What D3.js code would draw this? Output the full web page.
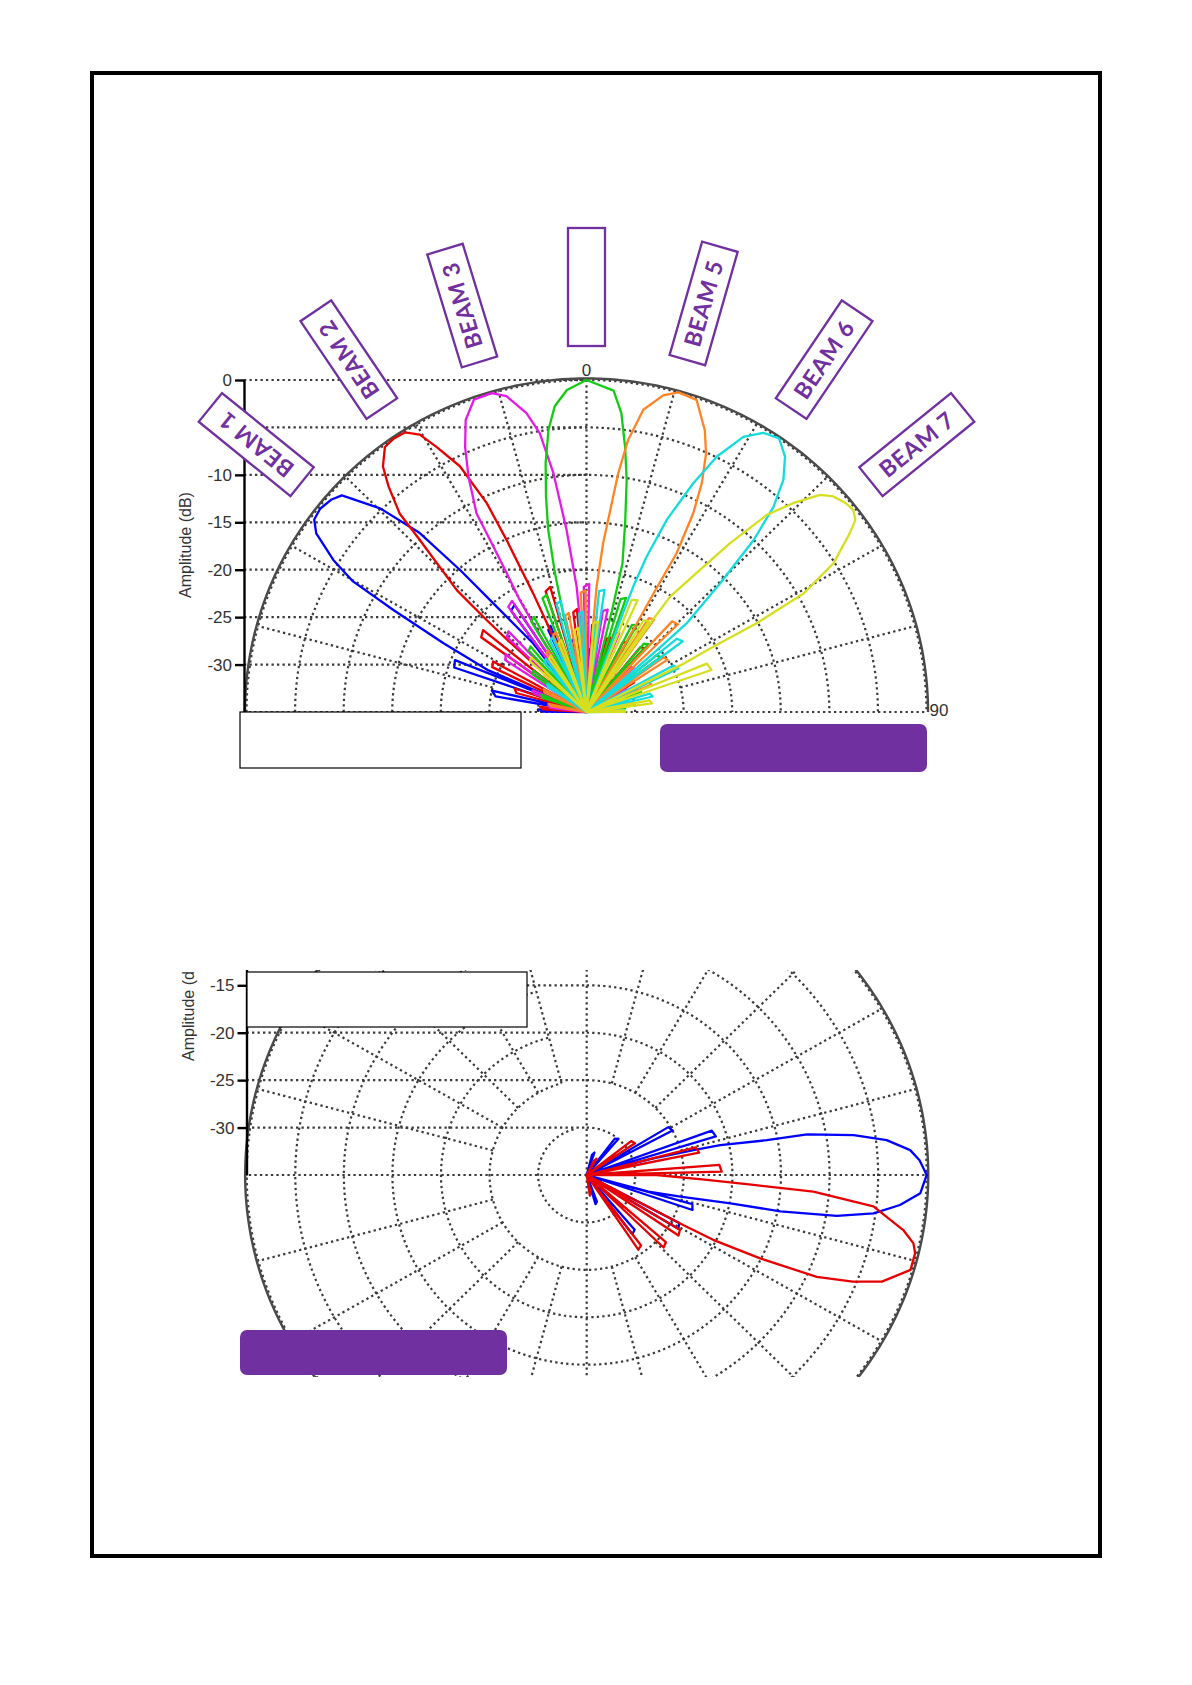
<!DOCTYPE html>
<html><head><meta charset="utf-8">
<script src="https://cdn.jsdelivr.net/npm/d3@7"></script>
<style>body{margin:0;background:#fff}svg{display:block}</style>
</head><body><svg id="c" width="1192" height="1685"></svg>
<script>
// ---------------- DATA ----------------
const dbDomain = [-35, 0];
const ringValues = [-30, -25, -20, -15, -10, -5];
const tickValues = [0, -5, -10, -15, -20, -25, -30];
const hiddenTickLabels = [-5];
const beamNames = ["BEAM 1", "BEAM 2", "BEAM 3", "", "BEAM 5", "BEAM 6", "BEAM 7"];
const beamSteer = [-51, -34, -17, 0, 16, 34, 51];
const axisTitle = "Amplitude (dB)";
const topAngleLabels = [{a: 0, t: "0"}, {a: 90, t: "90"}];

// [angle deg (clockwise from top), amplitude dB]
const beam1Main = [[-66.5,-24],[-63.8,-18.6],[-61.6,-12.4],[-60.2,-7.3],[-58.4,-4.4],[-55.9,-1.4],[-54.1,-0.4],[-52,-0.2],[-49.5,-0.5],[-47.8,-1],[-44.7,-4.8],[-42.3,-9.5],[-41,-15.2],[-39.8,-20.5],[-37.2,-25.9]];
const beam1Sides = [[[-89.5,-30.5],[-87,-30]],[[-80,-25.5],[-77,-25]],[[-71,-20.6],[-68,-20.4]],[[-36,-21.8],[-33.3,-21.5]],[[-24.5,-25.5],[-22.2,-25.2]],[[-12.5,-27.5],[-10.2,-27.2]],[[1.5,-28.5],[3.8,-28.3]],[[16.5,-29.5],[18.8,-29.3]],[[34.5,-31],[37.5,-30.8]]];

const beam2Main = [[-47,-24],[-46.7,-20.9],[-46.1,-16.5],[-43.4,-10],[-42.6,-6.6],[-40.6,-3.7],[-39,-1.7],[-36.6,-0.2],[-34.5,0],[-32.4,-0.1],[-30.4,-1.1],[-28.9,-3.1],[-26.7,-6],[-25,-10.7],[-24.4,-15.1],[-23.7,-21.4],[-23.5,-24.5]];
const beam2Sides = [[[-86.5,-30.5],[-83.5,-30.2]],[[-74.5,-27.5],[-71.5,-27.2]],[[-64,-24.2],[-61,-24]],[[-54,-21.6],[-51,-21.3]],[[-18.3,-21.6],[-15.8,-21.3]],[[-7.4,-24.4],[-5.2,-24.1]],[[3.6,-25.8],[5.8,-25.5]],[[15,-27],[17.4,-26.8]],[[27,-26.8],[29.4,-26.5]],[[39,-26.2],[41.5,-26]],[[54.5,-29.5],[57.5,-29.2]],[[71.5,-31.5],[74.5,-31.2]]];

const beam3Main = [[-30.5,-24],[-30.2,-21.3],[-29.3,-18.2],[-28.7,-14.3],[-28.4,-11.2],[-26.1,-7.4],[-24.1,-4.4],[-22,-1.8],[-19.4,-0.1],[-16.2,0],[-13.9,-0.7],[-11.1,-2.9],[-9.3,-5.2],[-7.7,-9.6],[-6.1,-15.7],[-4.4,-21.7],[-4,-25]];
const beam3Sides = [[[-83.5,-31.2],[-80.5,-31]],[[-70.5,-29.3],[-67.5,-29]],[[-56.8,-25],[-53.8,-24.7]],[[-46,-23.6],[-43.4,-23.3]],[[-36,-21.3],[-33.2,-21]],[[-1.2,-21.8],[1.2,-21.5]],[[9,-24.2],[11.4,-24]],[[19.5,-26.2],[22,-26]],[[30.5,-27.5],[33,-27.2]],[[43.5,-28.5],[46,-28.2]],[[59.5,-30.3],[62.5,-30]],[[77.5,-32],[80.5,-31.8]]];

const beam4Main = [[-13.2,-25],[-12.5,-20],[-11.6,-15.4],[-10.4,-11.9],[-9.1,-8.4],[-7.5,-5],[-5.8,-2.6],[-3.4,-1],[0,0],[4.7,-1],[6.5,-3.3],[8.1,-6.8],[9.6,-10.2],[11.3,-14.7],[13.3,-18.9],[13.8,-24]];
const beam4Sides = [[[-71.5,-30.2],[-68.5,-30]],[[-54.5,-28.2],[-51.5,-28]],[[-42.5,-26.2],[-39.8,-26]],[[-30.8,-23.9],[-28.4,-23.6]],[[-20.7,-22.2],[-18.4,-22]],[[16.4,-22.6],[18.7,-22.3]],[[27,-24.7],[29.5,-24.5]],[[39.3,-25.7],[41.8,-25.4]],[[50.3,-25.7],[52.8,-25.4]],[[66.5,-29.2],[69.5,-29]],[[81.5,-31.2],[84.5,-31]]];

const beam5Main = [[4.3,-25],[4.5,-21.7],[5.5,-17.1],[7.4,-9.6],[8.5,-6],[10.4,-2.6],[13.3,-0.7],[15.7,0],[19,-0.2],[22.3,-2.9],[24.3,-5.1],[26.2,-8.1],[27.7,-11.4],[29,-15.9],[28.9,-20.7],[29,-24]];
const beam5Sides = [[[-80.5,-31.3],[-77.5,-31]],[[-64.5,-30.2],[-61.5,-30]],[[-48,-29.2],[-45.3,-29]],[[-34,-27.6],[-31.5,-27.4]],[[-23,-26.2],[-20.5,-26]],[[-12.2,-24.6],[-9.9,-24.4]],[[-2.7,-22.4],[-0.4,-22.2]],[[33,-23.2],[35.5,-23]],[[42.7,-22],[45.5,-21.8]],[[54,-25.2],[56.5,-25]],[[64,-27.9],[66.7,-27.7]],[[78.5,-30.2],[81.5,-30]]];

const beam6Main = [[19.8,-24],[20,-20.9],[20.7,-17.5],[22.2,-13.1],[24.5,-8.5],[26.5,-4.9],[29.1,-1.8],[31.7,-0.4],[34.5,0],[37.2,-1.2],[39.6,-3.2],[41.7,-6.1],[43.5,-10],[45.4,-15.7],[47.8,-21.1],[48,-24.5]];
const beam6Sides = [[[-56.5,-30.2],[-53.5,-30]],[[-39.5,-28.2],[-36.8,-28]],[[-26.5,-26.6],[-24,-26.4]],[[-15.2,-23.2],[-12.8,-23]],[[-4.2,-24.6],[-1.9,-24.4]],[[5.8,-22.2],[8.2,-22]],[[50.3,-22.9],[53,-22.6]],[[61.3,-24.8],[64.1,-24.5]],[[73.5,-28.2],[76.5,-28]],[[86.5,-31.2],[89.5,-31]]];

const beam7Main = [[35,-24],[35.3,-20.1],[38.2,-15.5],[39.7,-11.9],[41.8,-7.1],[44,-4.4],[46.4,-1.8],[48.2,-0.9],[50.5,-0.4],[52.2,-0.25],[53.8,-0.7],[55.2,-2],[58.3,-5.1],[60.8,-9.4],[61.9,-15.2],[62.2,-20.2],[63,-24]];
const beam7Sides = [[[-47.5,-27.1],[-44.5,-26.9]],[[-34.5,-28.2],[-31.8,-28]],[[-21.5,-27.2],[-18.9,-27]],[[-8,-26.3],[-5.3,-26.1]],[[4.5,-25.6],[7.1,-25.4]],[[21.5,-22.3],[24,-22.1]],[[31.3,-23.7],[33.9,-23.5]],[[67.6,-21.6],[71,-21.4]],[[79.3,-28.4],[82.3,-28.2]],[[87.5,-31.2],[89.8,-31]]];

const lowerBlueMain = [[75.7,-27.9],[76.6,-23.7],[77.1,-20.9],[78.8,-16.1],[79.3,-11.9],[81.3,-7.2],[83.2,-3.9],[85.5,-1.6],[87.4,-0.7],[90,0],[93.2,-0.6],[95.6,-2.6],[97.8,-5.2],[99.5,-8.9],[100.9,-14.7],[101.4,-19.9],[103.3,-25.1],[105.4,-28.4]];
const lowerBlueSides = [[[14.5,-32.8],[18.5,-32.5]],[[37,-30.2],[40.5,-30]],[[59,-25.2],[62,-25]],[[70,-21.3],[73,-21.1]],[[105.8,-23.7],[108.7,-23.5]],[[118,-24.2],[121,-24]],[[139.5,-27.4],[143,-27.2]],[[159.5,-32],[163.5,-31.8]]];
const lowerRedMain = [[90,-27.8],[92.4,-22.6],[93.5,-17.8],[94.3,-11.6],[96.4,-5.3],[100.1,-1.9],[102.1,-0.6],[103.7,-0.2],[106.7,-0.2],[110.3,-2.6],[112.3,-5.4],[114.4,-9],[116.2,-15.1],[117.7,-20.3],[118,-23.7]];
const lowerRedSides = [[[26.5,-33.3],[30.5,-33]],[[52,-29.2],[56,-29]],[[75.5,-23.4],[78.5,-23.2]],[[85.5,-21.3],[88.5,-21.1]],[[121,-23.8],[124,-23.6]],[[131,-24.2],[134,-24]],[[143,-25.7],[146,-25.5]],[[167.5,-33],[171.5,-32.8]]];

// ---------------- STYLE / LAYOUT ----------------
const topBeams = [
  {main: beam1Main, sides: beam1Sides, color: "#0000ff"},
  {main: beam2Main, sides: beam2Sides, color: "#e60000"},
  {main: beam3Main, sides: beam3Sides, color: "#e61ae6"},
  {main: beam4Main, sides: beam4Sides, color: "#11cc11"},
  {main: beam5Main, sides: beam5Sides, color: "#ff8426"},
  {main: beam6Main, sides: beam6Sides, color: "#14dcdc"},
  {main: beam7Main, sides: beam7Sides, color: "#d6df1f"}
];
const lowerBeams = [
  {main: lowerBlueMain, sides: lowerBlueSides, color: "#0000ff"},
  {main: lowerRedMain, sides: lowerRedSides, color: "#e60000"}
];
const PURPLE = "#7030A0";
const GRID = "#3a3a3a";
const RY = 332, KX = 340 / 332;
const rScale = d3.scaleLinear().domain(dbDomain).range([0, RY]).clamp(true);
const rad = a => a * Math.PI / 180;
const FONT = "'Liberation Sans', Arial, sans-serif";

const svg = d3.select("#c");
svg.append("rect").attr("width", 1192).attr("height", 1685).attr("fill", "#fff");

function polarLine(cx, cy) {
  return d3.line()
    .x(d => cx + KX * rScale(d[1]) * Math.sin(rad(d[0])))
    .y(d => cy - rScale(d[1]) * Math.cos(rad(d[0])));
}

function drawPolar(g, cx, cy, axisX, a0, a1, beams) {
  const line = polarLine(cx, cy);
  const yScale = d3.scaleLinear().domain(dbDomain).range([cy, cy - RY]);
  const dotted = sel => sel.attr("fill", "none").attr("stroke", GRID)
    .attr("stroke-width", 2.2).attr("stroke-dasharray", "2.3,3.2");
  const angles = d3.range(a0, a1 + 0.5, 1);
  g.selectAll(null).data(tickValues).join("line")
    .attr("x1", axisX).attr("x2", cx)
    .attr("y1", d => yScale(d)).attr("y2", d => yScale(d)).call(dotted);
  g.selectAll(null).data(ringValues.concat([0])).join("path")
    .attr("d", v => line(angles.map(a => [a, v]))).call(dotted);
  g.append("path").attr("d", d3.line()
      .x(a => cx + KX * (RY + 1.5) * Math.sin(rad(a)))
      .y(a => cy - (RY + 1.5) * Math.cos(rad(a)))(angles))
    .attr("fill", "none").attr("stroke", "#4a4a4a").attr("stroke-width", 2.4);
  const spokes = d3.range(a0, a1 + 0.5, 15);
  g.selectAll(null).data(spokes).join("path")
    .attr("d", a => line([[a, a % 90 === 0 ? dbDomain[0] : -25], [a, 0]])).call(dotted);
  const ax = g.append("g").attr("transform", `translate(${axisX},0)`)
    .call(d3.axisLeft(yScale).tickValues(tickValues).tickSize(9).tickSizeOuter(0)
      .tickFormat(d => hiddenTickLabels.includes(d) ? "" : String(d)));
  ax.select(".domain").attr("stroke", "#000").attr("stroke-width", 2.4);
  ax.selectAll(".tick line").attr("stroke", "#000").attr("stroke-width", 2.4);
  ax.selectAll(".tick text").attr("font-family", FONT)
    .attr("font-size", 17).attr("fill", "#333");
  g.append("text").attr("transform", `translate(${axisX - 53},${cy - 167}) rotate(-90)`)
    .attr("text-anchor", "middle").attr("font-family", FONT)
    .attr("font-size", 16).attr("fill", "#333").text(axisTitle);
  beams.forEach(b => {
    const pts = [];
    [b.main].concat(b.sides).forEach(l => {
      pts.push([l[0][0], dbDomain[0]]);
      l.forEach(p => pts.push(p));
      pts.push([l[l.length - 1][0], dbDomain[0]]);
    });
    g.append("path").attr("d", line(pts)).attr("fill", "none")
      .attr("stroke", b.color).attr("stroke-width", 2.3).attr("stroke-linejoin", "round");
  });
}

// ----- TOP CHART -----
const tcx = 586.5, tcy = 712;
const topG = svg.append("g");
drawPolar(topG, tcx, tcy, 244, -90, 90, topBeams);
topAngleLabels.forEach(l => {
  const t = topG.append("text").attr("font-family", FONT)
    .attr("font-size", 17).attr("fill", "#333").text(l.t);
  if (l.a === 0) t.attr("x", tcx).attr("y", tcy - RY - 4).attr("text-anchor", "middle");
  else t.attr("x", tcx + KX * RY + 3).attr("y", tcy + 4).attr("text-anchor", "start");
});
const labelR = 425;
beamNames.forEach((name, i) => {
  const a = beamSteer[i];
  const gx = tcx + labelR * Math.sin(rad(a)), gy = tcy - labelR * Math.cos(rad(a));
  const lg = svg.append("g").attr("transform", `translate(${gx},${gy}) rotate(${a - 90})`);
  lg.append("rect").attr("x", -59).attr("y", -18.5).attr("width", 118).attr("height", 37)
    .attr("fill", "#fff").attr("stroke", PURPLE).attr("stroke-width", 2.3);
  lg.append("text").attr("text-anchor", "middle").attr("dy", "0.36em")
    .attr("font-family", "Lato, 'Open Sans', sans-serif").attr("font-weight", 700)
    .attr("font-size", 23).attr("letter-spacing", 0.6).attr("fill", PURPLE).text(name);
});
svg.append("rect").attr("x", 240).attr("y", 712).attr("width", 281).attr("height", 56)
  .attr("fill", "#fff").attr("stroke", "#000").attr("stroke-width", 1.2);
svg.append("rect").attr("x", 660).attr("y", 724).attr("width", 267).attr("height", 48)
  .attr("rx", 7).attr("fill", PURPLE);

// ----- BOTTOM CHART -----
const bcx = 586.7, bcy = 1175;
svg.append("clipPath").attr("id", "bclip").append("rect")
  .attr("x", 150).attr("y", 970).attr("width", 815).attr("height", 407);
const botG = svg.append("g").attr("clip-path", "url(#bclip)");
drawPolar(botG, bcx, bcy, 246.5, 0, 345, lowerBeams);
svg.append("rect").attr("x", 247).attr("y", 972).attr("width", 280).attr("height", 55)
  .attr("fill", "#fff").attr("stroke", "#000").attr("stroke-width", 1.2);
svg.append("rect").attr("x", 240).attr("y", 1330).attr("width", 267).attr("height", 45)
  .attr("rx", 7).attr("fill", PURPLE);

// frame
svg.append("rect").attr("x", 92).attr("y", 73).attr("width", 1008).attr("height", 1483)
  .attr("fill", "none").attr("stroke", "#000").attr("stroke-width", 4);
</script></body></html>
